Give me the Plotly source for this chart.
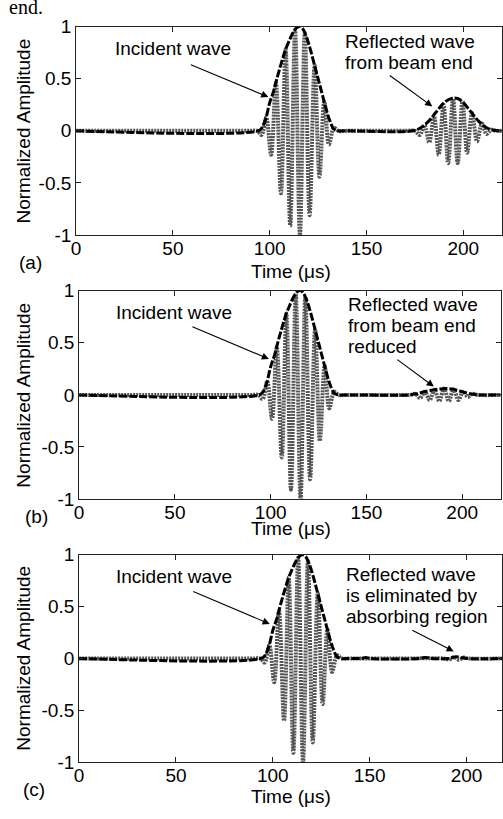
import plotly.graph_objects as go

W, H = 503, 819

# ---------------- data ----------------
# incident tone burst: extrema (time in us, normalized amplitude)
inc_t = [0, 90, 93.5, 95.8, 98.2, 100.7, 103.2, 105.8, 108.2, 110.6, 113.1, 115.6,
         118.1, 120.6, 123.2, 125.7, 128.2, 130.6, 133.2, 135.5, 140]
inc_v = [0, 0, 0, -0.04, 0.13, -0.23, 0.46, -0.60, 0.78, -0.91, 0.97, -1.00,
         0.94, -0.81, 0.63, -0.44, 0.28, -0.13, 0.03, 0, 0]

# incident envelope
env_inc_t = [0, 94, 96, 98, 100, 102, 104, 106, 108, 110, 112, 114, 115.5, 117,
             119, 121, 123, 125, 127, 129, 131, 133, 135]
env_inc_v = [0, 0, 0.03, 0.12, 0.27, 0.38, 0.52, 0.65, 0.77, 0.86, 0.94, 0.99, 1.0, 0.98,
             0.90, 0.78, 0.64, 0.50, 0.36, 0.22, 0.10, 0.02, 0]

# (a) reflected wave from beam end
ref_a_t = [170, 175, 177.5, 180.0, 182.4, 184.9, 187.3, 189.8, 192.2, 194.7, 197.1,
           199.6, 202.0, 204.5, 207.1, 209.6, 212.0, 214.5, 217, 220]
ref_a_v = [0, 0, -0.04, 0.05, -0.11, 0.14, -0.23, 0.25, -0.31, 0.31, -0.31,
           0.28, -0.21, 0.17, -0.10, 0.07, -0.03, 0.01, 0, 0]
env_ref_a_t = [140, 174, 178, 182, 186, 190, 194, 197, 200, 204, 208, 212, 216, 220]
env_ref_a_v = [0, 0, 0.03, 0.09, 0.18, 0.27, 0.31, 0.31, 0.27, 0.18, 0.09, 0.03, 0.005, 0]

# (b) reflected wave reduced
ref_b_t = [170, 173, 175.5, 178, 180.5, 183, 185.5, 188, 190.5, 193, 195.5, 198,
           200.5, 203, 205.5, 208, 220]
ref_b_v = [0, 0, 0.01, -0.03, 0.03, -0.05, 0.05, -0.06, 0.06, -0.06, 0.055, -0.05,
           0.03, -0.02, 0.01, 0, 0]
env_ref_b_t = [140, 172, 176, 180, 184, 188, 192, 196, 200, 204, 208, 220]
env_ref_b_v = [0, 0, 0.01, 0.03, 0.045, 0.055, 0.06, 0.05, 0.03, 0.01, 0, 0]

# (c) reflected wave eliminated
ref_c_t = [170, 188, 191, 193.5, 196, 198.5, 201, 220]
ref_c_v = [0, 0, -0.01, 0.012, -0.012, 0.008, 0, 0]
env_ref_c_t = [140, 146, 148, 150, 176, 179, 182, 191, 194, 197, 200, 220]
env_ref_c_v = [0, 0, 0.01, 0, 0, 0.01, 0, 0, 0.015, 0.01, 0, 0]

x_ticks = [0, 50, 100, 150, 200]
y_ticks = [-1, -0.5, 0, 0.5, 1]
y_tick_text = ["-1", "-0.5", "0", "0.5", "1"]

# ---------------- layout geometry (pixels) ----------------
panels = [
    dict(xl=72, xr=503, yt=17, yb=231, xmax=220),
    dict(xl=75, xr=501.5, yt=288, yb=502, xmax=220),
    dict(xl=75, xr=503, yt=559, yb=772, xmax=218.3),
]

FONT = "Liberation Sans, Arial, sans-serif"
FS = 19

def px(x):
    return x / W

def py(y):
    return 1 - y / H

fig = go.Figure()

signals = [
    (inc_t + ref_a_t, inc_v + ref_a_v, env_inc_t + env_ref_a_t, env_inc_v + env_ref_a_v),
    (inc_t + ref_b_t, inc_v + ref_b_v, env_inc_t + env_ref_b_t, env_inc_v + env_ref_b_v),
    (inc_t + ref_c_t, inc_v + ref_c_v, env_inc_t + env_ref_c_t, env_inc_v + env_ref_c_v),
]

for i, (st, sv, et, ev) in enumerate(signals):
    xa = "x" if i == 0 else f"x{i+1}"
    ya = "y" if i == 0 else f"y{i+1}"
    fig.add_trace(go.Scatter(x=st, y=sv, mode="lines", xaxis=xa, yaxis=ya,
                             line=dict(color="#555555", width=4, dash="2px,1px",
                                       shape="spline", smoothing=1.0),
                             showlegend=False, hoverinfo="skip"))
    fig.add_trace(go.Scatter(x=et, y=ev, mode="lines", xaxis=xa, yaxis=ya,
                             line=dict(color="black", width=3, dash="8px,2px",
                                       shape="spline", smoothing=1.0),
                             showlegend=False, hoverinfo="skip"))

axis_common = dict(showgrid=False, zeroline=False, showline=True, linecolor="#222",
                   linewidth=1, mirror="ticks", ticks="inside", ticklen=5,
                   tickcolor="#222", tickfont=dict(family=FONT, size=FS, color="black"))

for i, p in enumerate(panels):
    xk = "xaxis" if i == 0 else f"xaxis{i+1}"
    yk = "yaxis" if i == 0 else f"yaxis{i+1}"
    xa_id = "x" if i == 0 else f"x{i+1}"
    ya_id = "y" if i == 0 else f"y{i+1}"
    fig.layout[xk] = dict(axis_common, domain=[px(p["xl"]), min(1, px(p["xr"]))],
                          range=[0, p["xmax"]], tickvals=x_ticks, anchor=ya_id,
                          ticklabelstandoff=-4)
    fig.layout[yk] = dict(axis_common, domain=[py(p["yb"]), py(p["yt"])],
                          range=[-1, 1], tickvals=y_ticks, ticktext=y_tick_text,
                          anchor=xa_id)

ann = []

def text(x, y, s, xanchor="center", size=FS, family=FONT, angle=0):
    ann.append(dict(x=px(x), y=py(y), xref="paper", yref="paper", text=s,
                    showarrow=False, xanchor=xanchor, yanchor="middle",
                    textangle=angle, font=dict(family=family, size=size, color="black")))

def arrow(i, tx, ty, ax, ay):
    xa_id = "x" if i == 0 else f"x{i+1}"
    ya_id = "y" if i == 0 else f"y{i+1}"
    ann.append(dict(x=tx, y=ty, xref=xa_id, yref=ya_id, ax=ax, ay=ay,
                    axref="pixel", ayref="pixel", text="", showarrow=True,
                    arrowhead=2, arrowsize=1.3, arrowwidth=1.1, arrowcolor="black"))

centers_y = [124, 395, 665]
time_y = [268, 532, 807]
plabel = [("(a)", 26, 259), ("(b)", 32, 520), ("(c)", 29, 800)]
for i, p in enumerate(panels):
    text(19, centers_y[i], "Normalized Amplitude", angle=-90)
    text(289, time_y[i], "Time (\u03bcs)")
    text(plabel[i][1], plabel[i][2], plabel[i][0])

# (a)
text(170, 40, "Incident wave")
text(342, 32, "Reflected wave", xanchor="left")
text(342, 54, "from beam end", xanchor="left")
arrow(0, 99.3, 0.324, -79, -33)
arrow(0, 184.0, 0.234, -44, -32)
# (b)
text(171, 310, "Incident wave")
text(345, 302, "Reflected wave", xanchor="left")
text(345, 324, "from beam end", xanchor="left")
text(345, 345, "reduced", xanchor="left")
arrow(1, 99.1, 0.344, -78, -33)
arrow(1, 185.2, 0.08, -38, -28)
# (c)
text(171, 581, "Incident wave")
text(343, 579, "Reflected wave", xanchor="left")
text(343, 601, "is eliminated by", xanchor="left")
text(343, 622, "absorbing region", xanchor="left")
arrow(2, 98.4, 0.333, -78, -33)
arrow(2, 193.4, 0.068, -43, -22)

# fragment of preceding text at the very top
ann.append(dict(x=px(2), y=py(10), xref="paper", yref="paper", text="end.",
                showarrow=False, xanchor="left", yanchor="bottom",
                font=dict(family="Liberation Serif, Times New Roman, serif", size=20, color="black")))

fig.update_layout(width=W, height=H, margin=dict(l=0, r=0, t=0, b=0),
                  paper_bgcolor="white", plot_bgcolor="white", annotations=ann,
                  font=dict(family=FONT, size=FS, color="black"))

fig.write_html("out.html")
